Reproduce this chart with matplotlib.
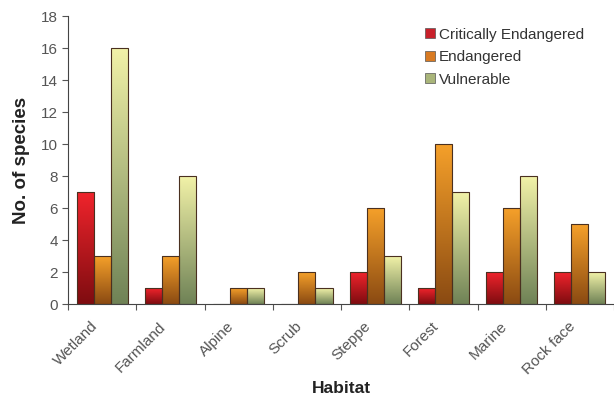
import numpy as np
import matplotlib
matplotlib.use("Agg")
import matplotlib.pyplot as plt
import matplotlib.transforms as mtransforms
from matplotlib.colors import LinearSegmentedColormap
from matplotlib.patches import Patch

plt.rcParams["font.family"] = ["Liberation Sans", "DejaVu Sans"]

habitats = ["Wetland", "Farmland", "Alpine", "Scrub", "Steppe", "Forest", "Marine", "Rock face"]
critically_endangered = [7, 1, 0, 0, 2, 1, 2, 2]
endangered = [3, 3, 1, 2, 6, 10, 6, 5]
vulnerable = [16, 8, 1, 1, 3, 7, 8, 2]

series = [
    ("Critically Endangered", critically_endangered, ("#7e0c10", "#f0242c"), "#c8202a"),
    ("Endangered", endangered, ("#8a4a12", "#f5a02a"), "#d87a22"),
    ("Vulnerable", vulnerable, ("#6f8256", "#f2f2a8"), "#a9b57a"),
]

fig = plt.figure(figsize=(6.14, 4.0), dpi=100)
ax = fig.add_axes([0.111, 0.24, 0.889, 0.72])

x = np.arange(len(habitats))
width = 0.25
grad = np.linspace(0, 1, 256).reshape(-1, 1)

for i, (name, vals, (c0, c1), _) in enumerate(series):
    cmap = LinearSegmentedColormap.from_list(name, [c0, c1])
    bars = ax.bar(x + (i - 1) * width, vals, width, facecolor="none",
                  edgecolor="#4a3020", linewidth=0.8, zorder=3)
    for b in bars:
        h = b.get_height()
        if h <= 0:
            continue
        bx, bw = b.get_x(), b.get_width()
        im = ax.imshow(grad, cmap=cmap, aspect="auto", origin="lower",
                       extent=(bx, bx + bw, 0, h), zorder=2)
        im.set_clip_path(b)

ax.set_xlim(-0.5, len(habitats) - 0.5)
ax.set_ylim(0, 18)
ax.set_yticks(np.arange(0, 19, 2))

# category boundary ticks, labels sit on minor ticks at the centres
ax.set_xticks(np.arange(-0.5, len(habitats), 1.0))
ax.set_xticklabels([])
ax.set_xticks(x, minor=True)
ax.set_xticklabels(habitats, minor=True, rotation=45, ha="right",
                   rotation_mode="anchor", fontsize=11, color="#555555")
ax.tick_params(axis="x", which="minor", length=0, pad=11)
ax.tick_params(axis="x", which="major", direction="out", length=4, color="#555555")
ax.tick_params(axis="y", direction="out", length=4, color="#555555",
               labelsize=11, labelcolor="#555555")
offset = mtransforms.ScaledTranslation(-0.12, 0, fig.dpi_scale_trans)
for lab in ax.get_xticklabels(minor=True):
    lab.set_transform(lab.get_transform() + offset)

for s in ["top", "right"]:
    ax.spines[s].set_visible(False)
for s in ["left", "bottom"]:
    ax.spines[s].set_color("#444444")

ax.set_ylabel("No. of species", fontsize=13.5, fontweight="bold", color="#222222", labelpad=8)
ax.set_xlabel("Habitat", fontsize=12.5, fontweight="bold", color="#222222", labelpad=3)

handles = [Patch(facecolor=c, edgecolor="#555555", linewidth=0.5) for _, _, _, c in series]
fig.legend(handles, [s[0] for s in series], loc="upper left",
           bbox_to_anchor=(0.670, 0.965), bbox_transform=fig.transFigure,
           frameon=False, fontsize=11, handlelength=0.65, handleheight=0.65,
           handletextpad=0.25, labelspacing=0.55, labelcolor="#333333")

fig.savefig("out.png", dpi=100)
